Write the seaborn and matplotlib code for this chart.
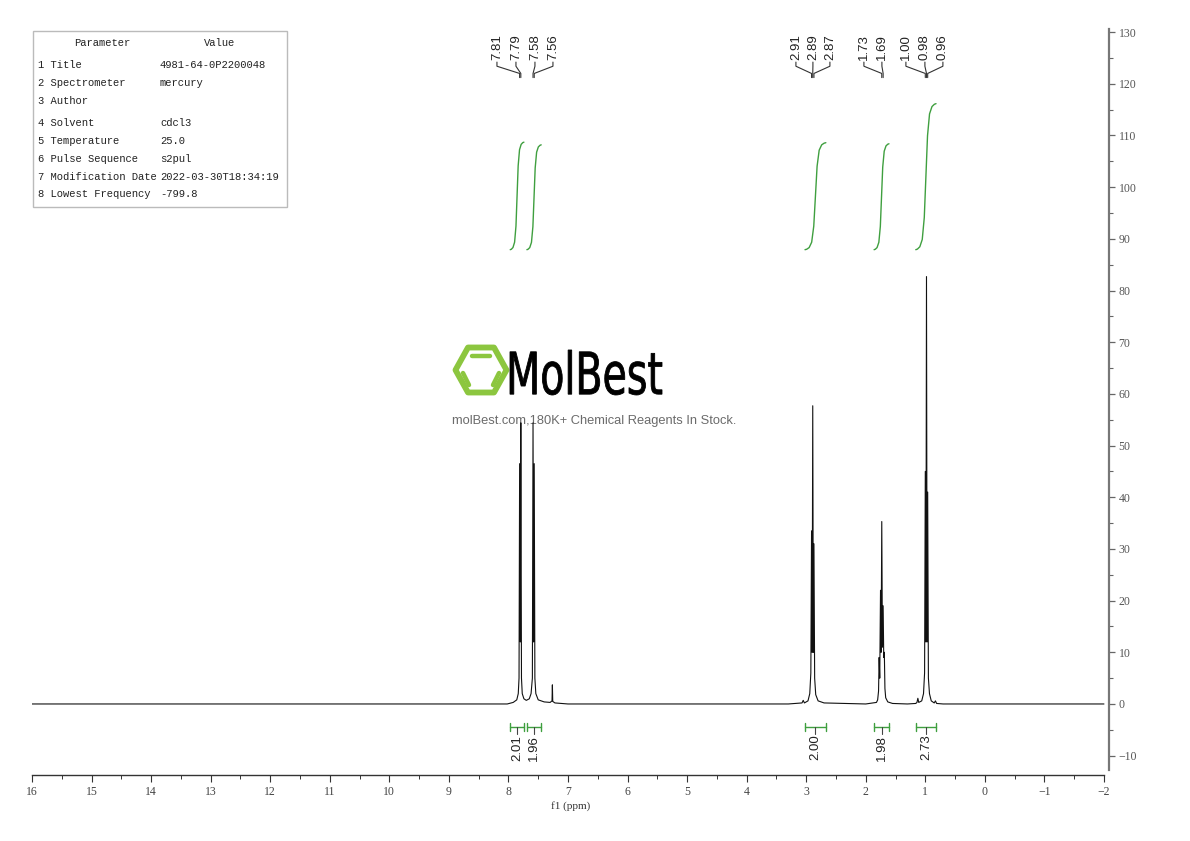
import numpy as np
import matplotlib
matplotlib.use("Agg")
import matplotlib.pyplot as plt
from matplotlib.patches import Rectangle, Polygon, PathPatch
from matplotlib.textpath import TextPath
from matplotlib.font_manager import FontProperties
from matplotlib.transforms import Affine2D
from matplotlib.ticker import MultipleLocator
import seaborn as sns


# spectrum trace (ppm, intensity)
trace_ppm = [16.0, 8.02, 7.92, 7.86, 7.835, 7.822, 7.812, 7.801, 7.792, 7.781,
             7.768, 7.74, 7.70, 7.65, 7.62, 7.598, 7.587, 7.577, 7.567, 7.556,
             7.54, 7.50, 7.40, 7.30, 7.268, 7.262, 7.256, 7.22, 7.00,
             3.30, 3.07, 3.05, 3.03, 2.97, 2.94, 2.922, 2.910, 2.900, 2.890,
             2.880, 2.870, 2.858, 2.84, 2.80, 2.70, 2.00,
             1.82, 1.80, 1.785, 1.775, 1.765, 1.752, 1.742, 1.731, 1.720,
             1.708, 1.698, 1.688, 1.678, 1.665, 1.63, 1.55, 1.30,
             1.16, 1.14, 1.125, 1.11, 1.06, 1.03, 1.012, 1.000, 0.990, 0.980,
             0.970, 0.960, 0.948, 0.93, 0.90, 0.85, 0.83, 0.81, 0.70, -2.0]
trace_int = [0.0, 0.0, 0.3, 0.8, 2.0, 5.0, 46.5, 12.0, 54.4, 5.0,
             2.0, 1.0, 0.7, 1.0, 2.0, 5.0, 54.4, 12.0, 46.5, 5.0,
             2.0, 0.8, 0.4, 0.3, 0.6, 3.7, 0.5, 0.2, 0.0,
             0.0, 0.2, 0.7, 0.2, 0.6, 2.0, 6.0, 33.5, 10.0, 57.7,
             10.0, 31.0, 5.0, 1.8, 0.6, 0.2, 0.0,
             0.3, 0.8, 2.5, 9.0, 5.0, 22.0, 10.0, 35.3, 11.0,
             19.0, 9.0, 10.0, 3.0, 1.2, 0.4, 0.1, 0.0,
             0.1, 0.3, 1.1, 0.3, 0.6, 2.0, 6.0, 45.0, 12.0, 82.7,
             12.0, 41.0, 5.0, 2.0, 0.6, 0.2, 0.6, 0.1, 0.0, 0.0]

# peak picking labels
peak_labels = ["7.81", "7.79", "7.58", "7.56", "2.91", "2.89", "2.87",
               "1.73", "1.69", "1.00", "0.98", "0.96"]
peak_ppm = [7.812, 7.792, 7.587, 7.567, 2.910, 2.890, 2.870,
            1.731, 1.708, 1.000, 0.980, 0.960]

# integrals
integral_start = [7.97, 7.69, 3.02, 1.86, 1.16]
integral_end = [7.74, 7.45, 2.67, 1.61, 0.82]
integral_values = [2.01, 1.96, 2.00, 1.98, 2.73]

# acquisition parameters
param_names = ["1 Title", "2 Spectrometer", "3 Author", "4 Solvent",
               "5 Temperature", "6 Pulse Sequence", "7 Modification Date",
               "8 Lowest Frequency"]
param_values = ["4981-64-0P2200048", "mercury", "", "cdcl3", "25.0", "s2pul",
                "2022-03-30T18:34:19", "-799.8"]

x_ticks = list(range(16, -3, -1))
y_ticks = list(range(-10, 131, 10))

W, H = 1190, 841


def fx(x):
    return x / W


def fy(y):
    return 1 - y / H


sns.set_style("white")
plt.rcParams["font.family"] = ["Liberation Serif", "DejaVu Serif"]

fig = plt.figure(figsize=(11.9, 8.41), dpi=100)
ax = fig.add_axes([0.0269, 0.0785, 0.905, 0.887])

# watermark
green = "#8cc63f"
hexagon = Polygon([(fx(455.5), fy(370)), (fx(468), fy(347.5)), (fx(494), fy(347.5)),
                   (fx(506.5), fy(370)), (fx(494), fy(392.5)), (fx(468), fy(392.5))],
                  closed=True, fill=False, edgecolor=green, lw=4.2,
                  joinstyle="round", transform=fig.transFigure, zorder=0.5)
ax.add_patch(hexagon)
for (xa, ya), (xb, yb) in [((472, 356), (490, 356)),
                           ((463, 373), (469, 385)),
                           ((499, 373), (493, 385))]:
    ax.plot([fx(xa), fx(xb)], [fy(ya), fy(yb)], color=green, lw=3.2,
            solid_capstyle="round", transform=fig.transFigure, zorder=0.5)

tp = TextPath((0, 0), "MolBest", size=1, prop=FontProperties(family="DejaVu Sans"))
bb = tp.get_extents()
tr = (Affine2D().translate(-bb.x0, -bb.y0)
      .scale((fx(662) - fx(510)) / bb.width, (fy(350) - fy(395)) / bb.height)
      .translate(fx(510), fy(395)) + fig.transFigure)
ax.add_patch(PathPatch(tp, transform=tr, facecolor="black", edgecolor="black",
                       lw=0.6, zorder=0.5))
ax.text(fx(594), fy(421), "molBest.com,180K+ Chemical Reagents In Stock.",
        transform=fig.transFigure, fontsize=9.3, color="#6b6b6b",
        family=["Liberation Sans", "DejaVu Sans"], ha="center", va="center", zorder=0.5)

# spectrum
sns.lineplot(x=trace_ppm, y=trace_int, sort=False, estimator=None,
             color="#111111", lw=0.8, ax=ax, zorder=2)

# peak labels with connectors
label_px = [497, 516, 535, 553, 796, 813, 830, 864, 882, 906, 925, 943]
for lab, pk, lx in zip(peak_labels, peak_ppm, label_px):
    lppm = 16 - (lx - 32) / 59.56
    ax.plot([lppm, lppm, pk, pk], [124.2, 123.4, 122.0, 121.2],
            color="#333333", lw=0.8, zorder=3)
    ax.text(lppm, 124.6, lab, rotation=90, ha="center", va="bottom",
            fontsize=9.5, family=["Liberation Sans", "DejaVu Sans"], color="#222222")

# integral curves and brackets
int_green = "#3f9f3f"
shape_t = [0, 0.08, 0.2, 0.32, 0.42, 0.5, 0.58, 0.68, 0.8, 0.92, 1.0]
shape_y = [0, 0.004, 0.02, 0.07, 0.22, 0.5, 0.78, 0.93, 0.98, 0.996, 1.0]
for x0, x1, val in zip(integral_start, integral_end, integral_values):
    xs = [x0 + (x1 - x0) * t for t in shape_t]
    ys = [87.9 + val * 10.35 * s for s in shape_y]
    ax.plot(xs, ys, color=int_green, lw=1.0, zorder=3)
    yb = -4.45
    ax.plot([x0, x1], [yb, yb], color=int_green, lw=1.0)
    ax.plot([x0, x0], [yb - 0.7, yb + 0.7], color=int_green, lw=1.0)
    ax.plot([x1, x1], [yb - 0.7, yb + 0.7], color=int_green, lw=1.0)
    xm = (x0 + x1) / 2
    ax.plot([xm, xm], [yb, yb - 1.3], color="#444444", lw=0.8)
    ax.text(xm, yb - 1.5, f"{val:.2f}", rotation=90, ha="center", va="top",
            fontsize=9.5, family=["Liberation Sans", "DejaVu Sans"], color="#222222")

# axes
ax.set_xlim(16, -2.084)
ax.set_ylim(-13.74, 130.6)
ax.set_xticks(x_ticks)
ax.set_xticklabels([str(t).replace("-", "\u2212") for t in x_ticks])
ax.xaxis.set_minor_locator(MultipleLocator(0.5))
ax.yaxis.tick_right()
ax.set_yticks(y_ticks)
ax.yaxis.set_minor_locator(MultipleLocator(5))
ax.tick_params(axis="x", which="both", direction="out", bottom=True,
               labelsize=8.5, labelcolor="#444444", color="#333333", pad=3)
ax.tick_params(axis="x", which="major", length=5, width=0.8)
ax.tick_params(axis="x", which="minor", length=3, width=0.7)
ax.tick_params(axis="y", which="both", direction="out", right=True, left=False,
               labelright=True, labelleft=False, labelsize=8.5,
               labelcolor="#555555", color="#666666", pad=3)
ax.tick_params(axis="y", which="major", length=4, width=0.9)
ax.tick_params(axis="y", which="minor", length=3, width=0.8)
ax.set_xlabel("f1 (ppm)", fontsize=8, color="#333333", labelpad=2)
ax.set_ylabel("")

for side in ["top", "left"]:
    ax.spines[side].set_visible(False)
ax.spines["bottom"].set_color("#333333")
ax.spines["bottom"].set_linewidth(1.0)
ax.spines["bottom"].set_bounds(16, -2)
ax.spines["right"].set_color("#777777")
ax.spines["right"].set_linewidth(1.6)
ax.spines["right"].set_bounds(-12.8, 130.6)

# parameter table
fig.add_artist(Rectangle((fx(33), fy(207)), fx(287) - fx(33), fy(31) - fy(207),
                         transform=fig.transFigure, fill=False,
                         edgecolor="#bbbbbb", lw=1.0))
mono = ["Liberation Mono", "DejaVu Sans Mono"]
fig.text(fx(102), fy(43), "Parameter", ha="center", va="center",
         fontsize=7.6, family=mono, color="#222222")
fig.text(fx(220), fy(43), "Value", ha="center", va="center",
         fontsize=7.6, family=mono, color="#222222")
row_y = [65, 83, 101, 123, 141, 159, 177, 194]
for name, val, ry in zip(param_names, param_values, row_y):
    fig.text(fx(38), fy(ry), name, ha="left", va="center",
             fontsize=7.6, family=mono, color="#222222")
    fig.text(fx(160), fy(ry), val, ha="left", va="center",
             fontsize=7.6, family=mono, color="#222222")

fig.savefig("out.png", dpi=100, facecolor="white")
